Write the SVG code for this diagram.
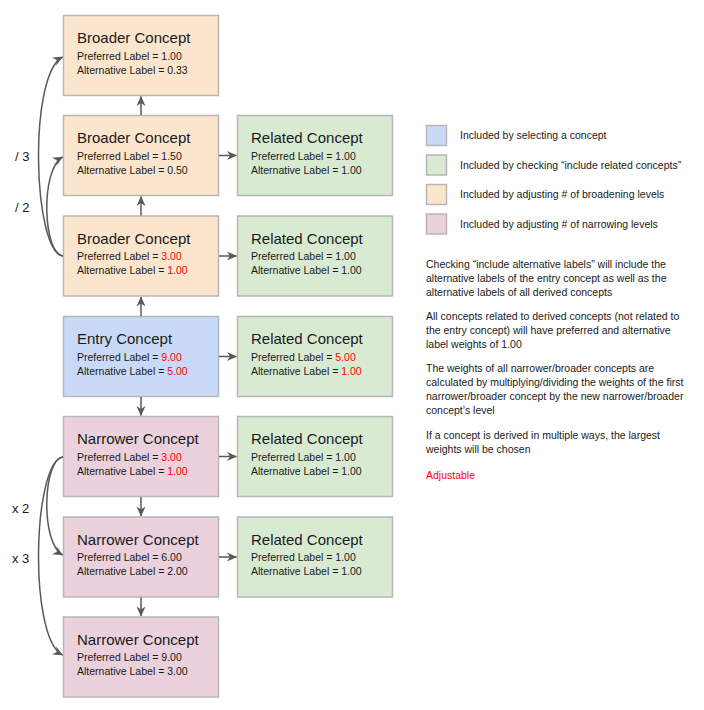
<svg xmlns="http://www.w3.org/2000/svg" width="704" height="710" viewBox="0 0 704 710">
<defs>
<style>
text{font-family:"Liberation Sans",Arial,sans-serif;fill:#1a1a1a}
.box{stroke:#b7b7b7;stroke-width:1.5}
.b{fill:#fce5cd}.n{fill:#ead1dc}.e{fill:#c9daf8}.r{fill:#d9ead3}
.t{font-size:15px}
.l{font-size:10.5px}
.red{fill:#ff0000}
.note{font-size:10.5px}
.lab{font-size:13px}
.c{fill:none;stroke:#595959;stroke-width:1.5}
</style>
<marker id="ah" viewBox="0 0 10 10" refX="9.5" refY="5" markerWidth="10" markerHeight="10" markerUnits="userSpaceOnUse" orient="auto">
<path d="M0,0.5 L10,5 L0,9.5 L3,5 z" fill="#595959"/>
</marker>
</defs>
<rect width="704" height="710" fill="#ffffff"/>

<g id="broader1"><rect class="box b" x="63.5" y="15.5" width="155" height="80"/>
<text class="t" x="77" y="43">Broader Concept</text>
<text class="l" x="77" y="59.5">Preferred Label = 1.00</text>
<text class="l" x="77" y="73.5">Alternative Label = 0.33</text></g>

<g id="broader2"><rect class="box b" x="63.5" y="115.5" width="155" height="80"/>
<text class="t" x="77" y="143">Broader Concept</text>
<text class="l" x="77" y="159.5">Preferred Label = 1.50</text>
<text class="l" x="77" y="173.5">Alternative Label = 0.50</text></g>

<g id="broader3"><rect class="box b" x="63.5" y="216" width="155" height="80"/>
<text class="t" x="77" y="243.5">Broader Concept</text>
<text class="l" x="77" y="260">Preferred Label = <tspan class="red">3.00</tspan></text>
<text class="l" x="77" y="274">Alternative Label = <tspan class="red">1.00</tspan></text></g>

<g id="entry"><rect class="box e" x="63.5" y="316.5" width="155" height="80"/>
<text class="t" x="77" y="344">Entry Concept</text>
<text class="l" x="77" y="360.5">Preferred Label = <tspan class="red">9.00</tspan></text>
<text class="l" x="77" y="374.5">Alternative Label = <tspan class="red">5.00</tspan></text></g>

<g id="narrower1"><rect class="box n" x="63.5" y="416.5" width="155" height="80"/>
<text class="t" x="77" y="444">Narrower Concept</text>
<text class="l" x="77" y="460.5">Preferred Label = <tspan class="red">3.00</tspan></text>
<text class="l" x="77" y="474.5">Alternative Label = <tspan class="red">1.00</tspan></text></g>

<g id="narrower2"><rect class="box n" x="63.5" y="517" width="155" height="80"/>
<text class="t" x="77" y="544.5">Narrower Concept</text>
<text class="l" x="77" y="561">Preferred Label = 6.00</text>
<text class="l" x="77" y="575">Alternative Label = 2.00</text></g>

<g id="narrower3"><rect class="box n" x="63.5" y="617" width="155" height="80"/>
<text class="t" x="77" y="644.5">Narrower Concept</text>
<text class="l" x="77" y="661">Preferred Label = 9.00</text>
<text class="l" x="77" y="675">Alternative Label = 3.00</text></g>

<g id="related1"><rect class="box r" x="237.5" y="115.5" width="155" height="80"/>
<text class="t" x="251" y="143">Related Concept</text>
<text class="l" x="251" y="159.5">Preferred Label = 1.00</text>
<text class="l" x="251" y="173.5">Alternative Label = 1.00</text></g>

<g id="related2"><rect class="box r" x="237.5" y="216" width="155" height="80"/>
<text class="t" x="251" y="243.5">Related Concept</text>
<text class="l" x="251" y="260">Preferred Label = 1.00</text>
<text class="l" x="251" y="274">Alternative Label = 1.00</text></g>

<g id="related3"><rect class="box r" x="237.5" y="316.5" width="155" height="80"/>
<text class="t" x="251" y="344">Related Concept</text>
<text class="l" x="251" y="360.5">Preferred Label = <tspan class="red">5.00</tspan></text>
<text class="l" x="251" y="374.5">Alternative Label = <tspan class="red">1.00</tspan></text></g>

<g id="related4"><rect class="box r" x="237.5" y="416.5" width="155" height="80"/>
<text class="t" x="251" y="444">Related Concept</text>
<text class="l" x="251" y="460.5">Preferred Label = 1.00</text>
<text class="l" x="251" y="474.5">Alternative Label = 1.00</text></g>

<g id="related5"><rect class="box r" x="237.5" y="517" width="155" height="80"/>
<text class="t" x="251" y="544.5">Related Concept</text>
<text class="l" x="251" y="561">Preferred Label = 1.00</text>
<text class="l" x="251" y="575">Alternative Label = 1.00</text></g>

<g id="connectors">
<line class="c" x1="141" y1="115" x2="141" y2="96.5" marker-end="url(#ah)"/>
<line class="c" x1="141" y1="215.5" x2="141" y2="196.5" marker-end="url(#ah)"/>
<line class="c" x1="141" y1="316" x2="141" y2="297" marker-end="url(#ah)"/>
<line class="c" x1="141" y1="397" x2="141" y2="415.5" marker-end="url(#ah)"/>
<line class="c" x1="141" y1="497" x2="141" y2="516" marker-end="url(#ah)"/>
<line class="c" x1="141" y1="597.5" x2="141" y2="616" marker-end="url(#ah)"/>
<line class="c" x1="219" y1="155.5" x2="236.5" y2="155.5" marker-end="url(#ah)"/>
<line class="c" x1="219" y1="256" x2="236.5" y2="256" marker-end="url(#ah)"/>
<line class="c" x1="219" y1="356.5" x2="236.5" y2="356.5" marker-end="url(#ah)"/>
<line class="c" x1="219" y1="456.5" x2="236.5" y2="456.5" marker-end="url(#ah)"/>
<line class="c" x1="219" y1="557" x2="236.5" y2="557" marker-end="url(#ah)"/>
<path class="c" d="M63 256 C33 252, 28 75, 62.5 57" marker-end="url(#ah)"/>
<path class="c" d="M63 256 C43 254, 40 170, 62.5 157" marker-end="url(#ah)"/>
<path class="c" d="M63 457 C43 459, 40 542, 62.5 555" marker-end="url(#ah)"/>
<path class="c" d="M63 457 C33 461, 28 637, 62.5 655" marker-end="url(#ah)"/>
<text class="lab" x="15" y="161">/ 3</text>
<text class="lab" x="15" y="212">/ 2</text>
<text class="lab" x="12" y="513">x 2</text>
<text class="lab" x="12" y="563">x 3</text>
</g>

<g id="legend">
<rect class="box e" x="426.5" y="125.5" width="20" height="20"/>
<text class="note" x="460" y="139">Included by selecting a concept</text>
<rect class="box r" x="426.5" y="155" width="20" height="20"/>
<text class="note" x="460" y="168.5">Included by checking “include related concepts”</text>
<rect class="box b" x="426.5" y="184.5" width="20" height="20"/>
<text class="note" x="460" y="198">Included by adjusting # of broadening levels</text>
<rect class="box n" x="426.5" y="214" width="20" height="20"/>
<text class="note" x="460" y="227.5">Included by adjusting # of narrowing levels</text>
</g>

<g id="notes">
<text class="note" x="426" y="268">Checking “include alternative labels” will include the</text>
<text class="note" x="426" y="282">alternative labels of the entry concept as well as the</text>
<text class="note" x="426" y="296">alternative labels of all derived concepts</text>
<text class="note" x="426" y="320">All concepts related to derived concepts (not related to</text>
<text class="note" x="426" y="334">the entry concept) will have preferred and alternative</text>
<text class="note" x="426" y="348">label weights of 1.00</text>
<text class="note" x="426" y="372">The weights of all narrower/broader concepts are</text>
<text class="note" x="426" y="386">calculated by multiplying/dividing the weights of the first</text>
<text class="note" x="426" y="400">narrower/broader concept by the new narrower/broader</text>
<text class="note" x="426" y="414">concept’s level</text>
<text class="note" x="426" y="439">If a concept is derived in multiple ways, the largest</text>
<text class="note" x="426" y="453">weights will be chosen</text>
<text class="note red" x="426" y="479">Adjustable</text>
</g>
</svg>
